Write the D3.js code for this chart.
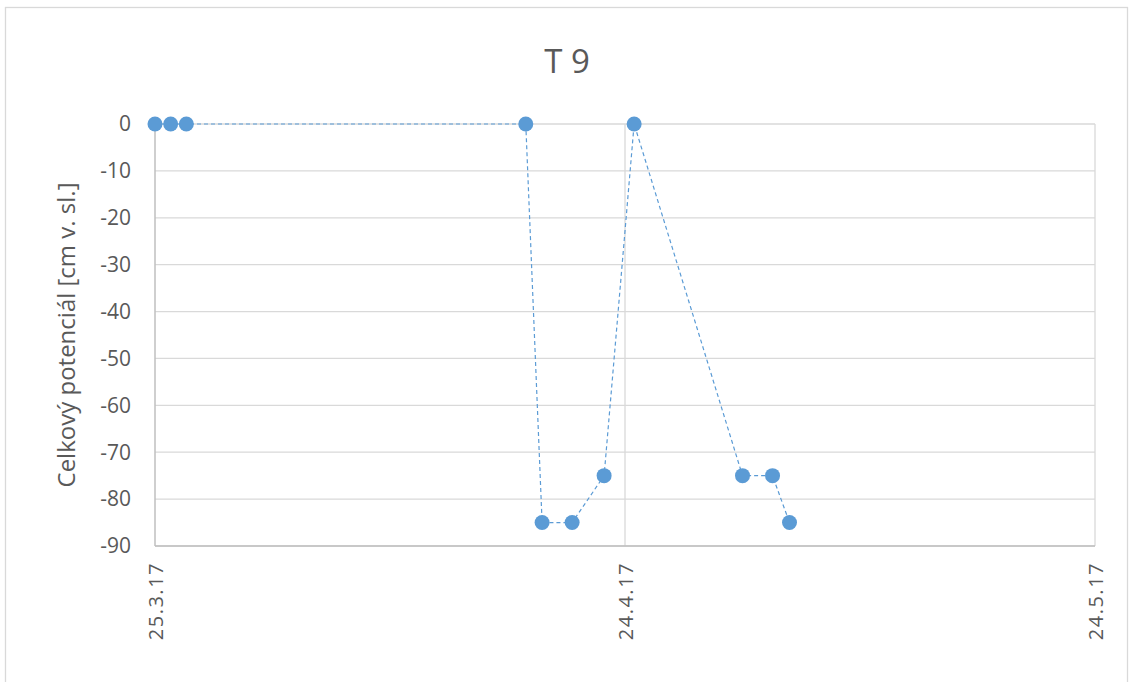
<!DOCTYPE html>
<html>
<head>
<meta charset="utf-8">
<script src="https://cdn.jsdelivr.net/npm/d3@7"></script>
<style>
  body { margin: 0; background: #fff; }
  #chart { position: absolute; left: 0; top: 0; }
  .grid line { stroke: #d9d9d9; stroke-width: 1.3; }
  .tickLabel { fill: #595959; font-family: "Open Sans", "Liberation Sans", sans-serif; font-size: 20px; }
</style>
</head>
<body>
<div id="chart"></div>
<script>
// measurement times and total potential [cm]
var times = [
    "2017-03-25T00:00", "2017-03-26T00:00", "2017-03-27T00:00",
    "2017-04-17T16:00", "2017-04-18T17:00", "2017-04-20T15:00",
    "2017-04-22T16:00", "2017-04-24T14:00", "2017-05-01T12:00",
    "2017-05-03T10:00", "2017-05-04T12:00"
];
var values = [0, 0, 0, 0, -85, -85, -75, 0, -75, -75, -85];
var xTicks = ["2017-03-25", "2017-04-24", "2017-05-24"];
var yTicks = [0, -10, -20, -30, -40, -50, -60, -70, -80, -90];
var title = "T 9";
var yTitle = "Celkový potenciál [cm v. sl.]";

var width = 1129, height = 682;
var plotL = 155, plotR = 1095, plotT = 124, plotB = 546;

var svg = d3.select("#chart").append("svg")
    .attr("width", width)
    .attr("height", height);

// chart frame
svg.append("rect")
    .attr("x", 5.5).attr("y", 7.5)
    .attr("width", 1122).attr("height", 680)
    .attr("fill", "#fff")
    .attr("stroke", "#d9d9d9")
    .attr("stroke-width", 1.3);

var parseT = d3.timeParse("%Y-%m-%dT%H:%M");
var parseD = d3.timeParse("%Y-%m-%d");
var data = times.map(function (t, i) { return { t: parseT(t), v: values[i] }; });
var tickDates = xTicks.map(parseD);

var x = d3.scaleTime()
    .domain([tickDates[0], tickDates[tickDates.length - 1]])
    .range([plotL, plotR]);
var y = d3.scaleLinear()
    .domain([-90, 0])
    .range([plotB, plotT]);

var grid = svg.append("g").attr("class", "grid");
grid.selectAll(".hline")
    .data(yTicks)
    .enter()
    .append("line")
    .attr("x1", plotL).attr("x2", plotR)
    .attr("y1", function (d) { return y(d); })
    .attr("y2", function (d) { return y(d); });
grid.selectAll(".vline")
    .data(tickDates.slice(1))
    .enter()
    .append("line")
    .attr("x1", function (d) { return x(d); })
    .attr("x2", function (d) { return x(d); })
    .attr("y1", plotT).attr("y2", plotB);

// axis lines
svg.append("line")
    .attr("x1", plotL).attr("x2", plotL)
    .attr("y1", plotT).attr("y2", plotB)
    .attr("stroke", "#bfbfbf").attr("stroke-width", 1.5);
svg.append("line")
    .attr("x1", plotL).attr("x2", plotR)
    .attr("y1", plotB).attr("y2", plotB)
    .attr("stroke", "#bfbfbf").attr("stroke-width", 1.5);

// y tick labels
svg.selectAll(".yLabel")
    .data(yTicks)
    .enter()
    .append("text")
    .attr("class", "tickLabel")
    .attr("x", 131)
    .attr("y", function (d) { return y(d); })
    .attr("dy", "0.35em")
    .attr("text-anchor", "end")
    .style("font-size", "21px")
    .text(function (d) { return d; });

// x tick labels, rotated
var fmt = function (d) { return d.getDate() + "." + (d.getMonth() + 1) + "." + String(d.getFullYear()).slice(2); };
svg.selectAll(".xLabel")
    .data(tickDates)
    .enter()
    .append("text")
    .attr("class", "tickLabel")
    .attr("text-anchor", "end")
    .attr("dy", "0.35em")
    .style("letter-spacing", "1.5px")
    .attr("transform", function (d) { return "translate(" + (x(d) + 1) + "," + (plotB + 16) + ") rotate(-90)"; })
    .text(fmt);

// titles
svg.append("text")
    .attr("x", 567)
    .attr("y", 73)
    .attr("text-anchor", "middle")
    .attr("fill", "#595959")
    .style("font-family", "'Open Sans', 'Liberation Sans', sans-serif")
    .style("font-size", "33px")
    .text(title);

svg.append("text")
    .attr("transform", "translate(75," + ((plotT + plotB) / 2) + ") rotate(-90)")
    .attr("text-anchor", "middle")
    .attr("fill", "#595959")
    .style("font-family", "'Open Sans', 'Liberation Sans', sans-serif")
    .style("font-size", "24px")
    .text(yTitle);

// series
var line = d3.line()
    .x(function (d) { return x(d.t); })
    .y(function (d) { return y(d.v); });

svg.append("path")
    .datum(data)
    .attr("d", line)
    .attr("fill", "none")
    .attr("stroke", "#5b9bd5")
    .attr("stroke-width", 1.2)
    .attr("stroke-dasharray", "4,3");

svg.selectAll(".pt")
    .data(data)
    .enter()
    .append("circle")
    .attr("cx", function (d) { return x(d.t); })
    .attr("cy", function (d) { return y(d.v); })
    .attr("r", 7.5)
    .attr("fill", "#5b9bd5");
</script>
</body>
</html>
